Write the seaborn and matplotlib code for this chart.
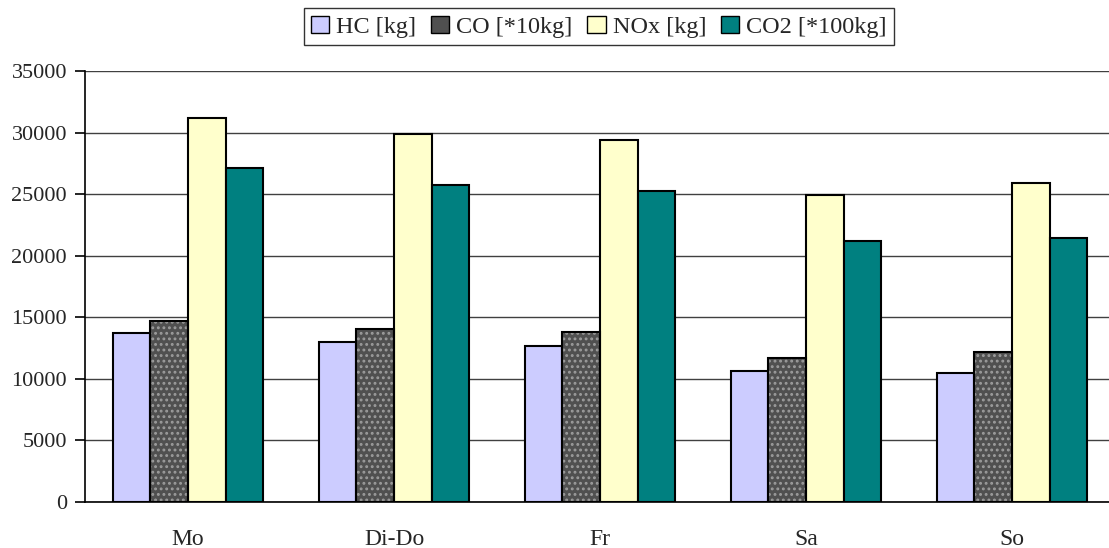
import matplotlib
matplotlib.use("Agg")
import matplotlib.pyplot as plt
from matplotlib.patches import Rectangle, Patch
import pandas as pd
import seaborn as sns

# Emission totals per weekday group
days = ["Mo", "Di-Do", "Fr", "Sa", "So"]
series = ["HC [kg]", "CO [*10kg]", "NOx [kg]", "CO2 [*100kg]"]
hc = [13720, 12990, 12670, 10640, 10480]
co = [14700, 14050, 13800, 11700, 12180]
nox = [31150, 29880, 29400, 24920, 25900]
co2 = [27150, 25740, 25250, 21220, 21410]
y_ticks = [0, 5000, 10000, 15000, 20000, 25000, 30000, 35000]

colors = ["#CCCCFF", "#505050", "#FFFFCC", "#008080"]
dot_color = "#9C9C9C"

df = pd.DataFrame({
    "day": days * 4,
    "series": sum([[s] * len(days) for s in series], []),
    "value": hc + co + nox + co2,
})

sns.set_style("white")
plt.rcParams["font.family"] = ["Liberation Serif", "DejaVu Serif"]
plt.rcParams["hatch.linewidth"] = 1.3

fig = plt.figure(figsize=(11.09, 5.48), dpi=100)
ax = fig.add_axes([85 / 1109, 46 / 548, 1030 / 1109, 431 / 548])

sns.barplot(data=df, x="day", y="value", hue="series", order=days,
            hue_order=series, palette=colors, width=0.73, gap=0,
            edgecolor="black", linewidth=1.5, saturation=1, legend=False,
            ax=ax, zorder=3)

# Dotted texture for the CO bars, with a black outline drawn on top
co_bars = ax.containers[1]
for bar in co_bars:
    bar.set_hatch("...")
    bar.set_edgecolor(dot_color)
    bar.set_linewidth(0)
    ax.add_patch(Rectangle(bar.get_xy(), bar.get_width(), bar.get_height(),
                           fill=False, edgecolor="black", linewidth=1.5,
                           zorder=4))

ax.set_ylim(0, 35000)
ax.set_xlim(-0.5, len(days) - 0.5)
ax.set_yticks(y_ticks)
ax.set_yticklabels([str(t) for t in y_ticks], fontsize=16)
ax.set_xlabel("")
ax.set_ylabel("")
ax.grid(axis="y", color="#404040", linewidth=1.0, zorder=0)
ax.set_axisbelow(True)

for side in ["top", "right"]:
    ax.spines[side].set_visible(False)
for side in ["left", "bottom"]:
    ax.spines[side].set_color("black")
    ax.spines[side].set_linewidth(1.2)

# Category ticks sit between the groups
ax.set_xticks(range(len(days)))
ax.set_xticklabels(days, fontsize=17)
ax.tick_params(axis="x", length=0, pad=19.5)
ax.set_xticks([i - 0.5 for i in range(len(days) + 1)], minor=True)
ax.tick_params(axis="x", which="minor", length=7, width=1.2, color="black",
               direction="out")
ax.tick_params(axis="y", length=7, width=1.2, color="black", direction="out",
               left=True, pad=6)

handles = [Patch(facecolor=c, edgecolor="black", linewidth=1.0)
           for c in colors]
leg = fig.legend(handles, series, loc="upper center", ncol=4,
                 bbox_to_anchor=(0.54, 0.985), fontsize=17.5, frameon=True,
                 fancybox=False, edgecolor="black", handlelength=0.75,
                 handleheight=0.75, handletextpad=0.3, columnspacing=0.6,
                 borderpad=0.3, borderaxespad=0)
leg.get_frame().set_linewidth(1.0)

fig.savefig("out.png", dpi=100)
